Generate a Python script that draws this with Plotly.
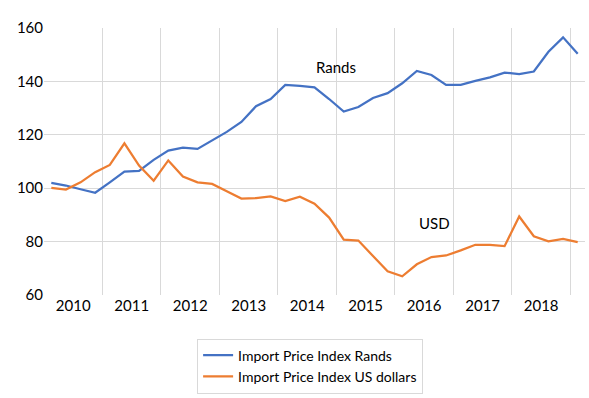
import plotly.graph_objects as go

quarters = [f"{y}Q{q}" for y in range(2010, 2020) for q in range(1, 5)][:37]
rands = [102.0, 101.0, 99.6, 98.3, 102.2, 106.2, 106.5, 110.6, 114.1, 115.2, 114.7, 118.0,
         121.1, 124.8, 130.7, 133.4, 138.7, 138.3, 137.8, 133.4, 128.7, 130.4, 133.8, 135.6,
         139.3, 143.9, 142.4, 138.7, 138.7, 140.2, 141.5, 143.3, 142.7, 143.7, 151.1, 156.5, 150.4]
usd = [100.1, 99.5, 102.2, 106.0, 108.7, 116.8, 108.5, 102.8, 110.4, 104.4, 102.2, 101.6,
       98.9, 96.1, 96.3, 96.9, 95.2, 96.8, 94.2, 89.0, 80.7, 80.4, 74.6, 68.9,
       67.0, 71.5, 74.2, 74.8, 76.7, 78.8, 78.8, 78.3, 89.4, 82.0, 80.1, 81.0, 79.8]
year_labels = [str(y) for y in range(2010, 2019)]
y_ticks = [60, 80, 100, 120, 140, 160]
y_grid = [80, 100, 120, 140]

xi = list(range(len(quarters)))
font = "Lato"

fig = go.Figure()
fig.add_trace(go.Scatter(x=xi, y=rands, mode="lines", name="Import Price Index Rands",
                         line=dict(color="#4472C4", width=2.25), text=quarters))
fig.add_trace(go.Scatter(x=xi, y=usd, mode="lines", name="Import Price Index US dollars",
                         line=dict(color="#ED7D31", width=2.25), text=quarters))

fig.add_annotation(x=19.5, y=145.5, text="Rands", showarrow=False,
                   font=dict(family=font, size=15, color="#000"))
fig.add_annotation(x=26.2, y=87, text="USD", showarrow=False,
                   font=dict(family=font, size=15, color="#000"))

fig.update_layout(
    width=589, height=398,
    margin=dict(l=44, r=4, t=28, b=100),
    paper_bgcolor="white", plot_bgcolor="white",
    font=dict(family=font, size=15, color="#000"),
    showlegend=True,
    legend=dict(orientation="v", x=0.283, y=-0.163, xanchor="left", yanchor="top",
                bordercolor="#D9D9D9", borderwidth=1, itemwidth=30,
                font=dict(family=font, size=14, color="#000")),
    xaxis=dict(range=[-0.5, len(quarters) - 0.5],
               tickmode="array", tickvals=[1.5 + 4 * k for k in range(len(year_labels))],
               ticktext=year_labels, showgrid=False, zeroline=False, showline=False, ticks="",
               tickfont=dict(size=15),
               minor=dict(tickmode="array", tickvals=[3.5 + 4 * k for k in range(9)],
                          showgrid=True, gridcolor="#D9D9D9", gridwidth=1, ticks="")),
    yaxis=dict(range=[60, 160], tickmode="array", tickvals=y_ticks, showgrid=False,
               zeroline=False, showline=False, ticks="", tickfont=dict(size=15),
               minor=dict(tickmode="array", tickvals=y_grid, showgrid=True,
                          gridcolor="#D9D9D9", gridwidth=1, ticks="")),
)

fig.write_html("out.html", config={"displayModeBar": False},
               post_script="document.body.style.margin='0';")
